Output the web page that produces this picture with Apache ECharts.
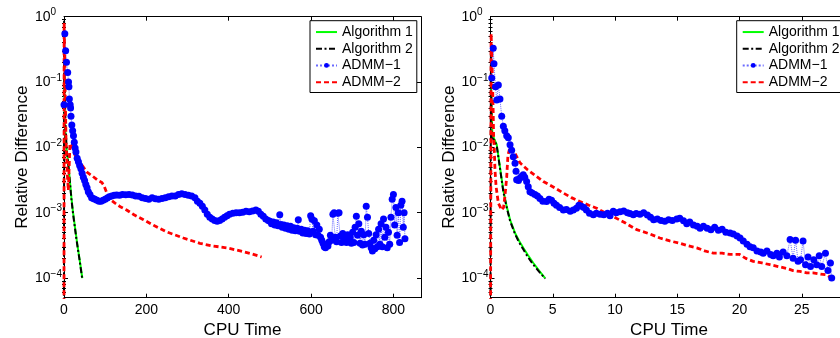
<!DOCTYPE html>
<html>
<head>
<meta charset="utf-8">
<script src="https://cdn.jsdelivr.net/npm/echarts@6.0.0/dist/echarts.min.js"></script>
<style>
html,body{margin:0;padding:0;background:#fff;}
#chart{width:840px;height:338px;}
</style>
</head>
<body>
<div id="chart"></div>
<script>
// ---------- tick labels ----------
const leftXTicks = [0, 200, 400, 600, 800];
const rightXTicks = [0, 5, 10, 15, 20, 25];
const yTicks = [1e-4, 1e-3, 1e-2, 1e-1, 1];
const seriesNames = ['Algorithm 1', 'Algorithm 2', 'ADMM\u22121', 'ADMM\u22122'];

// ---------- left panel data ----------
const leftAlg1T = [0.3, 1, 2, 4, 6.5, 10, 14, 18, 22, 26, 30, 34, 38, 41.5, 44.5];
const leftAlg1V = [0.12, 0.05, 0.025, 0.014, 0.009, 0.006, 0.0032, 0.0017, 0.001, 6.5e-4, 4.2e-4, 2.8e-4, 1.9e-4, 1.35e-4, 1.0e-4];

const leftAlg2T = [0, 0.2, 1, 2, 4, 6.5, 10, 14, 18, 22, 26, 30, 34, 38, 41, 44];
const leftAlg2V = [1e-5, 0.9, 0.2, 0.06, 0.02, 0.0095, 0.0058, 0.0031, 0.0016, 9.6e-4, 6.2e-4, 4.0e-4, 2.7e-4, 1.85e-4, 1.35e-4, 1.0e-4];

const leftAdmm1T = [0, 2, 4, 6, 9, 11, 12, 13, 15, 16, 17, 19, 21, 23, 25, 27, 29, 32, 35, 38, 41, 44, 47, 50, 53, 56, 59, 63, 67, 71, 75, 80, 85, 90, 95, 100, 105, 110, 116, 122, 128, 135, 142, 150, 158, 166, 174, 182, 190, 198, 206, 214, 222, 230, 238, 246, 254, 262, 270, 278, 286, 294, 302, 310, 318, 324, 330, 336, 342, 348, 354, 360, 366, 372, 378, 384, 390, 396, 402, 410, 418, 426, 434, 442, 450, 458, 466, 472, 478, 484, 490, 496,
  500, 504, 508, 512, 516, 520, 524, 527, 530, 534, 538, 542, 546, 550, 554, 558, 562, 566, 569, 572, 576, 580, 584, 588, 592, 596, 599, 602, 605, 608, 611, 614, 617, 620, 623, 626, 629, 632, 635, 638, 641, 644, 647, 650, 653, 656, 659, 662, 665, 668, 671, 674, 677, 680, 683, 686, 689, 692, 695, 698, 701, 704, 707, 710, 713, 716, 719, 722, 725, 728, 731, 734, 737, 740, 743, 746, 749, 752, 755, 758, 761, 764, 767, 770, 773, 776, 779, 782, 785, 788, 791, 794, 797, 800, 803, 806, 809, 812, 815, 818, 821, 824, 826, 828];
const leftAdmm1V = [0.045, 0.55, 0.3, 0.2, 0.14, 0.1, 0.085, 0.055, 0.045, 0.04, 0.03, 0.022, 0.018, 0.015, 0.012, 0.0098, 0.0085, 0.0068, 0.006, 0.0053, 0.0047, 0.004, 0.0035, 0.0031, 0.0027, 0.0024, 0.0021, 0.0019, 0.0017, 0.00165, 0.0016, 0.00155, 0.0015, 0.0015, 0.00155, 0.0016, 0.00168, 0.00175, 0.0018, 0.00185, 0.00187, 0.00185, 0.0019, 0.00188, 0.0019, 0.00186, 0.0018, 0.00178, 0.0017, 0.00165, 0.0016, 0.0017, 0.00163, 0.0016, 0.00165, 0.0017, 0.00175, 0.0018, 0.0018, 0.0019, 0.00195, 0.0019, 0.00185, 0.0018, 0.0017, 0.0015, 0.0014, 0.00125, 0.0011, 0.00095, 0.00085, 0.0008, 0.00076, 0.00074, 0.00076, 0.0008, 0.00085, 0.0009, 0.00095, 0.00098, 0.001, 0.001, 0.00102, 0.00105, 0.00103, 0.00106, 0.0011, 0.00105, 0.00095, 0.00088, 0.0008, 0.00076,
  7.4e-4, 6.8e-4, 7.2e-4, 6.5e-4, 7.0e-4, 6.3e-4, 9.3e-4, 6.6e-4, 6.0e-4, 6.5e-4, 5.8e-4, 6.3e-4, 5.6e-4, 6.2e-4, 5.4e-4, 5.9e-4, 5.3e-4, 5.8e-4, 7.8e-4, 5.2e-4, 5.6e-4, 4.9e-4, 5.4e-4, 4.8e-4, 5.3e-4, 4.7e-4, 9.0e-4, 8.0e-4, 5.2e-4, 7.5e-4, 4.6e-4, 6.5e-4, 4.5e-4, 5.6e-4, 4.2e-4, 3.8e-4, 3.4e-4, 3.0e-4, 2.9e-4, 3.3e-4, 3.1e-4, 3.6e-4, 4.5e-4, 3.8e-4, 9.5e-4, 1.0e-3, 4.2e-4, 3.6e-4, 9.8e-4, 1.0e-3, 4.4e-4, 3.5e-4, 4.8e-4, 3.8e-4, 4.4e-4, 3.5e-4, 4.6e-4, 3.6e-4, 4.2e-4, 3.4e-4, 5.0e-4, 3.5e-4, 6.0e-4, 8.8e-4, 4.5e-4, 6.8e-4, 3.4e-4, 5.2e-4, 3.2e-4, 4.6e-4, 3.3e-4, 1.25e-3, 8.5e-4, 4.8e-4, 3.4e-4, 2.9e-4, 2.6e-4, 3.8e-4, 2.8e-4, 4.6e-4, 3.0e-4, 5.6e-4, 3.3e-4, 6.8e-4, 3.0e-4, 8.0e-4, 4.2e-4, 6.0e-4, 2.9e-4, 5.0e-4, 3.3e-4, 8.5e-4, 1.6e-3, 1.9e-3, 6.5e-4, 1.2e-3, 4.5e-4, 1.0e-3, 3.5e-4, 1.3e-3, 1.5e-3, 6.0e-4, 1.0e-3, 4.0e-4];

const leftAdmm2T = [0, 0.3, 1.5, 3, 5, 8, 10.5, 12.5, 14.5, 20, 27, 40, 55, 70, 83, 92, 97, 104, 112, 124, 138, 152, 170, 193, 220, 249, 290, 330, 360, 395, 428, 455, 480];
const leftAdmm2V = [1e-5, 0.8, 0.3, 0.06, 0.012, 0.004, 0.0022, 0.005, 0.0115, 0.0105, 0.0075, 0.0058, 0.0042, 0.0036, 0.0031, 0.0029, 0.0026, 0.002, 0.0016, 0.0014, 0.00122, 0.0011, 9.3e-4, 7.8e-4, 6.3e-4, 5.1e-4, 4.1e-4, 3.4e-4, 3.1e-4, 2.9e-4, 2.6e-4, 2.35e-4, 2.1e-4];

// ---------- right panel data ----------
const rightAlg1T = [0.02, 0.1, 0.15, 0.3, 0.5, 0.76, 1.03, 1.3, 1.57, 1.97, 2.3, 2.63, 3.0, 3.44, 3.9, 4.38];
const rightAlg1V = [0.12, 0.03, 0.016, 0.0135, 0.011, 0.005, 0.0022, 0.00125, 7.8e-4, 4.9e-4, 3.7e-4, 2.9e-4, 2.25e-4, 1.7e-4, 1.3e-4, 1.0e-4];

const rightAlg2T = [0, 0.03, 0.1, 0.3, 0.5, 0.76, 1.03, 1.3, 1.57, 1.97, 2.3, 2.63, 3.0, 3.44, 3.9, 4.4];
const rightAlg2V = [1e-5, 0.3, 0.014, 0.013, 0.0105, 0.0048, 0.0021, 0.0012, 7.5e-4, 4.7e-4, 3.5e-4, 2.75e-4, 2.1e-4, 1.6e-4, 1.25e-4, 9.8e-5];

const rightAdmm1T = [0.1, 0.22, 0.28, 0.4, 0.5, 0.63, 0.76, 0.9, 1.03, 1.15, 1.3, 1.43, 1.57, 1.7, 1.83, 1.97, 2.05, 2.1, 2.25, 2.37, 2.5, 2.63, 2.75, 2.9, 3.03, 3.17, 3.35, 3.57, 3.77, 3.97, 4.2, 4.5, 4.7, 4.9, 5.1, 5.3, 5.55, 5.85, 6.1, 6.4, 6.65, 6.9, 7.1, 7.3, 7.5, 7.7, 7.95, 8.26, 8.5, 8.8, 9.1, 9.4, 9.6, 9.86, 10.1, 10.4, 10.7, 11.0, 11.2, 11.47, 11.7, 12.0, 12.3, 12.6, 12.85, 13.1, 13.4, 13.7, 14.0, 14.3, 14.6, 14.96, 15.2, 15.5, 15.76, 16.0, 16.3, 16.6, 16.83, 17.1, 17.4, 17.7, 18.0, 18.3, 18.6, 18.9, 19.24, 19.5, 19.8, 20.04, 20.3, 20.6, 20.84, 21.1, 21.4, 21.7, 21.9, 22.2, 22.5, 22.7, 23.0, 23.2, 23.5, 23.8, 24.06, 24.3, 24.5, 24.7, 24.9, 25.1, 25.3, 25.5, 25.7, 25.96, 26.2, 26.4, 26.6, 26.9, 27.1, 27.3, 27.4];
const rightAdmm1V = [0.115, 0.33, 0.19, 0.085, 0.053, 0.09, 0.055, 0.03, 0.021, 0.018, 0.015, 0.014, 0.011, 0.009, 0.0072, 0.0057, 0.0043, 0.0032, 0.0031, 0.0034, 0.0036, 0.0038, 0.0035, 0.003, 0.0025, 0.0021, 0.002, 0.0019, 0.0018, 0.00165, 0.0015, 0.00148, 0.0016, 0.00155, 0.0014, 0.0013, 0.0012, 0.0011, 0.00112, 0.00105, 0.0011, 0.00117, 0.0013, 0.00125, 0.0012, 0.0011, 0.00098, 0.00093, 0.00098, 0.00095, 0.00093, 0.00098, 0.0009, 0.00105, 0.001, 0.00103, 0.00106, 0.001, 0.00097, 0.00093, 0.00097, 0.00095, 0.001, 0.00092, 0.00085, 0.00078, 0.0008, 0.00076, 0.00074, 0.00078, 0.00076, 0.0008, 0.00082, 0.00075, 0.00068, 0.00072, 0.00065, 0.00062, 0.00058, 0.00062, 0.00058, 0.00055, 0.0006, 0.00054, 0.00056, 0.0005, 0.00049, 0.00047, 0.00044, 0.00041, 0.00037, 0.00033, 0.0003, 0.00029, 0.00026, 0.00025, 0.00024, 0.00026, 0.00023, 0.00022, 0.00024, 0.00021, 0.00025, 0.00022, 0.00039, 0.0002, 0.00038, 0.00018, 0.00019, 0.00037, 0.00016, 0.00021, 0.00015, 0.00019, 0.00016, 0.00022, 0.00015, 0.00024, 0.00013, 0.00017, 0.0001];

const rightAdmm2T = [0, 0.05, 0.12, 0.2, 0.25, 0.3, 0.36, 0.45, 0.63, 0.9, 1.05, 1.16, 1.3, 1.4, 1.57, 1.9, 2.37, 3.0, 3.7, 4.24, 5.0, 5.85, 6.5, 7.19, 7.9, 8.53, 9.2, 9.86, 10.8, 11.74, 12.7, 13.6, 14.4, 15.2, 15.9, 16.56, 17.2, 17.9, 18.6, 19.24, 20.0, 20.5, 21.1, 21.8, 22.45, 23.1, 23.8, 24.3, 24.86, 25.4, 25.9, 26.5, 27.0, 27.4];
const rightAdmm2V = [1e-5, 0.55, 0.2, 0.05, 0.015, 0.01, 0.0045, 0.0025, 0.0014, 0.0011, 0.0012, 0.0018, 0.0035, 0.0075, 0.0102, 0.0085, 0.0058, 0.0045, 0.0036, 0.003, 0.0025, 0.002, 0.0017, 0.00148, 0.0013, 0.00117, 0.001, 0.00087, 0.0007, 0.00055, 0.00048, 0.00041, 0.00037, 0.00034, 0.00031, 0.00029, 0.00026, 0.00024, 0.00024, 0.00023, 0.00023, 0.0002, 0.00018, 0.00017, 0.00016, 0.00015, 0.00014, 0.00013, 0.000126, 0.00012, 0.00012, 0.000115, 0.000112, 0.0001];

// ---------- build ----------
const FONT = 'Liberation Sans, Arial, Helvetica, sans-serif';
const pairs = (t, v) => t.map((x, i) => [x, v[i]]);
const minorTicks = [];
for (let e = -5; e <= -1; e++) for (let k = 2; k <= 9; k++) {
  const val = k * Math.pow(10, e);
  if (val > 5.01e-5 && val < 1) minorTicks.push(val);
}
const supMinus = s => s.replace('-', '\u2212');
function yLabel(v) {
  const ex = Math.round(Math.log10(v));
  return '{b|10}{s|' + supMinus(String(ex)) + '}';
}

function xAxes(grid, max, ticks) {
  return [
    { gridIndex: grid, type: 'value', min: 0, max: max, position: 'bottom',
      axisLine: { show: true, onZero: false, lineStyle: { color: '#000', width: 1 } },
      axisTick: { show: true, inside: true, length: 4, customValues: ticks, lineStyle: { color: '#000' } },
      axisLabel: { customValues: ticks, color: '#000', fontSize: 14, fontFamily: FONT, margin: 5 },
      splitLine: { show: false },
      name: 'CPU Time', nameLocation: 'middle', nameGap: 14,
      nameTextStyle: { color: '#000', fontSize: 17, fontFamily: FONT } },
    { gridIndex: grid, type: 'value', min: 0, max: max, position: 'top',
      axisLine: { show: true, onZero: false, lineStyle: { color: '#000', width: 1 } },
      axisTick: { show: true, inside: true, length: 4, customValues: ticks, lineStyle: { color: '#000' } },
      axisLabel: { show: false }, splitLine: { show: false } }
  ];
}
function yAxes(grid) {
  const base = { gridIndex: grid, type: 'log', logBase: 10, min: 5e-5, max: 1, splitLine: { show: false } };
  return [
    Object.assign({}, base, { position: 'left',
      axisLine: { show: true, onZero: false, lineStyle: { color: '#000', width: 1 } },
      axisTick: { show: true, inside: true, length: 4, customValues: yTicks, lineStyle: { color: '#000' } },
      axisLabel: { customValues: yTicks, formatter: yLabel, align: 'left', margin: 29, color: '#000',
        rich: { b: { fontSize: 14, fontFamily: FONT, color: '#000' },
                s: { fontSize: 10, fontFamily: FONT, color: '#000', padding: [0, 0, 8, 0] } } },
      name: 'Relative Difference', nameLocation: 'middle', nameGap: 32,
      nameTextStyle: { color: '#000', fontSize: 17, fontFamily: FONT } }),
    Object.assign({}, base, { position: 'right',
      axisLine: { show: true, onZero: false, lineStyle: { color: '#000', width: 1 } },
      axisTick: { show: true, inside: true, length: 4, customValues: yTicks, lineStyle: { color: '#000' } },
      axisLabel: { show: false } }),
    Object.assign({}, base, { position: 'left', axisLine: { show: false },
      axisTick: { show: true, inside: true, length: 2, customValues: minorTicks, lineStyle: { color: '#000' } },
      axisLabel: { show: false } }),
    Object.assign({}, base, { position: 'right', axisLine: { show: false },
      axisTick: { show: true, inside: true, length: 2, customValues: minorTicks, lineStyle: { color: '#000' } },
      axisLabel: { show: false } })
  ];
}

function panelSeries(xi, yi, d) {
  return [
    { name: seriesNames[0], type: 'line', xAxisIndex: xi, yAxisIndex: yi, data: d.a1, symbol: 'none',
      lineStyle: { color: '#00ff00', width: 2 }, itemStyle: { color: '#00ff00' }, clip: true },
    { name: seriesNames[1], type: 'line', xAxisIndex: xi, yAxisIndex: yi, data: d.a2, symbol: 'none',
      lineStyle: { color: '#000', width: 2, type: [6, 2.5, 2, 2.5] }, itemStyle: { color: '#000' }, clip: true },
    { name: seriesNames[2], type: 'line', xAxisIndex: xi, yAxisIndex: yi, data: d.m1, symbol: 'circle', symbolSize: 7,
      lineStyle: { color: '#6a6aff', width: 1, type: 'dotted' }, itemStyle: { color: '#0000ff' }, clip: true },
    { name: seriesNames[3], type: 'line', xAxisIndex: xi, yAxisIndex: yi, data: d.m2, symbol: 'none',
      lineStyle: { color: '#ff0000', width: 2.8, type: [5, 3] }, itemStyle: { color: '#ff0000' }, clip: true }
  ];
}

function legendAt(left) {
  return { left: left, top: 20.7, orient: 'vertical', selectedMode: false,
    data: [
      { name: seriesNames[0], itemStyle: { opacity: 0 } },
      { name: seriesNames[1], itemStyle: { opacity: 0 } },
      { name: seriesNames[2] },
      { name: seriesNames[3], itemStyle: { opacity: 0 } }
    ],
    itemWidth: 21, itemHeight: 6, itemGap: 0, padding: [3, 4, 2, 5],
    borderColor: '#000', borderWidth: 1, backgroundColor: '#fff',
    textStyle: { color: '#000', fontSize: 14, fontFamily: FONT, lineHeight: 16.7 } };
}

const option = {
  animation: false,
  backgroundColor: '#fff',
  grid: [
    { left: 64, top: 16.7, width: 357, height: 281, outerBoundsMode: 'none', containLabel: false },
    { left: 490.5, top: 16.7, width: 357, height: 281, outerBoundsMode: 'none', containLabel: false }
  ],
  xAxis: [].concat(xAxes(0, 867, leftXTicks), xAxes(1, 28.67, rightXTicks)),
  yAxis: [].concat(yAxes(0), yAxes(1)),
  legend: [legendAt(310), legendAt(736.7)],
  series: [].concat(
    panelSeries(0, 0, { a1: pairs(leftAlg1T, leftAlg1V), a2: pairs(leftAlg2T, leftAlg2V), m1: pairs(leftAdmm1T, leftAdmm1V), m2: pairs(leftAdmm2T, leftAdmm2V) }),
    panelSeries(2, 4, { a1: pairs(rightAlg1T, rightAlg1V), a2: pairs(rightAlg2T, rightAlg2V), m1: pairs(rightAdmm1T, rightAdmm1V), m2: pairs(rightAdmm2T, rightAdmm2V) })
  )
};
const chart = echarts.init(document.getElementById('chart'), null, { renderer: 'canvas' });
chart.setOption(option);
</script>
</body>
</html>
